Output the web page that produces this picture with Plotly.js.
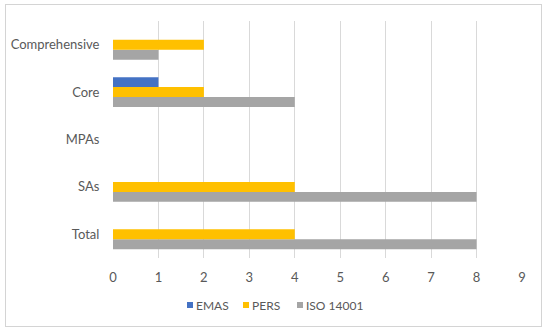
<!DOCTYPE html>
<html><head><meta charset="utf-8">
<script src="https://cdn.plot.ly/plotly-3.0.1.min.js"></script>
<style>
html,body{margin:0;padding:0;background:#fff;}
#wrap{position:relative;width:550px;height:335px;}
#chart{width:550px;height:335px;}
#frame{position:absolute;left:5px;top:4px;width:535px;height:321px;border:1px solid #d4d4d4;pointer-events:none;}
</style></head>
<body>
<div id="wrap"><div id="chart"></div><div id="frame"></div></div>
<script>
const categories = ["Total", "SAs", "MPAs", "Core", "Comprehensive"];
const seriesNames = ["EMAS", "PERS", "ISO 14001"];
const seriesColors = ["#4472c4", "#ffc000", "#a5a5a5"];
const emas = [0, 0, 0, 1, 0];
const pers = [4, 4, 0, 2, 2];
const iso = [8, 8, 0, 4, 1];
const xTicks = [0,1,2,3,4,5,6,7,8,9];

const W = 550, H = 335;
const M = {l: 113, r: 28, t: 21, b: 77};
const font = {family: "Lato, 'Open Sans', sans-serif", size: 13, color: "#595959"};
const legendFont = {family: "Lato, 'Open Sans', sans-serif", size: 12, color: "#595959"};
const values = [emas, pers, iso];

// Excel draws the first series on top inside a group: add traces in reverse order
const traces = [2, 1, 0].map(i => ({
  type: "bar", orientation: "h", name: seriesNames[i],
  x: values[i], y: categories,
  marker: {color: seriesColors[i]}, showlegend: false, hoverinfo: "x+name"
}));

// custom legend (small squares close to the text, like the original)
const pw = W - M.l - M.r, ph = H - M.t - M.b;
const px2x = p => (p - M.l) / pw;
const py2y = p => (H - M.b - p) / ph;
const legendX = [187, 243, 297];
const legendY = 305;
const shapes = [], annotations = [];
seriesNames.forEach((n, i) => {
  shapes.push({type: "rect", xref: "paper", yref: "paper",
    x0: px2x(legendX[i]), x1: px2x(legendX[i] + 6),
    y0: py2y(legendY + 3), y1: py2y(legendY - 3),
    fillcolor: seriesColors[i], line: {width: 0}});
  annotations.push({xref: "paper", yref: "paper", x: px2x(legendX[i] + 7),
    y: py2y(legendY), xanchor: "left", yanchor: "middle", showarrow: false,
    text: n, font: legendFont});
});

const layout = {
  width: W, height: H, margin: M,
  paper_bgcolor: "#fff", plot_bgcolor: "#fff",
  barmode: "group", bargap: 0.37, bargroupgap: 0,
  font: font, showlegend: false,
  xaxis: {
    range: [0, 9], tickvals: xTicks, ticktext: xTicks.map(String),
    showgrid: true, gridcolor: "#d9d9d9", gridwidth: 1, zeroline: false,
    showline: false, ticks: "", tickfont: font, ticklabelstandoff: 10, fixedrange: true
  },
  yaxis: {
    type: "category", categoryorder: "array", categoryarray: categories,
    showgrid: false, zeroline: false, showline: false, ticks: "outside",
    ticklen: 10, tickcolor: "rgba(0,0,0,0)", tickfont: font, fixedrange: true
  },
  shapes: shapes, annotations: annotations
};
Plotly.newPlot("chart", traces, layout, {displayModeBar: false, staticPlot: true});
</script>
</body></html>
